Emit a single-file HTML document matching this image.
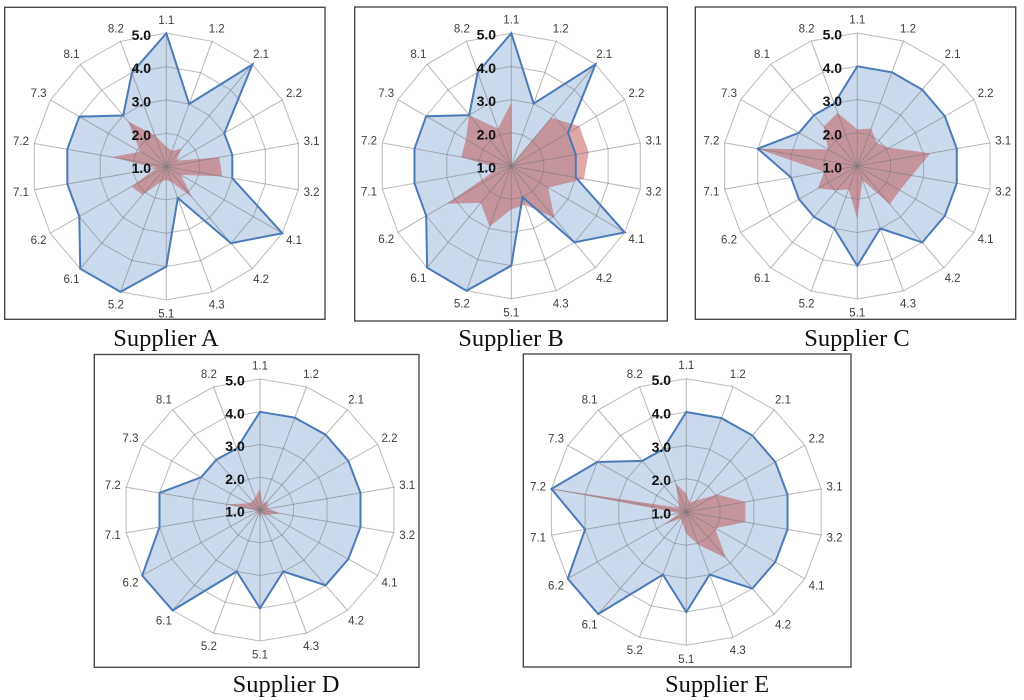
<!DOCTYPE html>
<html lang="en">
<head>
<meta charset="utf-8">
<title>Supplier radar charts</title>
<style>
html,body{margin:0;padding:0;background:#fff;width:1024px;height:700px;overflow:hidden}
svg{display:block;filter:blur(.35px)}
</style>
</head>
<body>
<svg id="figure" xmlns="http://www.w3.org/2000/svg" width="1024" height="700" viewBox="0 0 1024 700"></svg>
<script>
const categories = ['1.1','1.2','2.1','2.2','3.1','3.2','4.1','4.2','4.3','5.1','5.2','6.1','6.2','7.1','7.2','7.3','8.1','8.2'];
const scaleTicks = [1, 2, 3, 4, 5];

const supplierABlue = [5,3,5,3,3,3,5,4,2,4,5,5,4,4,4,4,3,4];
const supplierARed = [1.6,1.5,1.7,1.35,2.6,2.7,1.5,2.2,1.5,1.4,1.5,2.1,2.2,1.3,2.65,1.9,2.77,2];

const supplierBBlue = [5,3,5,3,3,3,5,4,2,4,5,5,4,4,4,4,3,4];
const supplierBRed = [2.9,1.05,2.9,3.4,3.4,3.25,2.3,3.05,2.25,2.3,2.95,2.45,3.27,1.4,2.55,2.6,3,2.2];

const supplierCBlue = [4,4,4,4,4,4,4,4,3,4,3,3,3,3,4,3,3,3];
const supplierCRed = [2.1,2.2,1.9,2.1,3.2,2.65,2.46,2.5,1.45,2.6,1.75,1.95,2.35,2,4,2,2.55,2.7];

const supplierDBlue = [4,4,4,4,4,4,4,4,3,4,3,5,5,4,4,3,3,3];
const supplierDRed = [1.66,1.2,1.35,1.25,1.25,1.6,1.3,1.2,1.1,1.3,1.1,1.1,1.1,1.1,2,1.4,1.35,1.4];

const supplierEBlue = [4,4,4,4,4,4,4,4,3,4,3,5,5,4,5,4,3,3];
const supplierERed = [1.55,1.3,1.45,2.05,2.75,2.75,1.97,2.8,2.05,1.65,1.35,1.25,1.75,1.2,5,1.25,1.35,1.9];

const SVG_NS = 'http://www.w3.org/2000/svg';

function mk(parent, tag, attrs, text) {
  const el = document.createElementNS(SVG_NS, tag);
  for (const k in attrs) el.setAttribute(k, attrs[k]);
  if (text !== undefined) el.textContent = text;
  parent.appendChild(el);
  return el;
}

function drawRadar(root, slug, title, blue, red, cx, cy, rx, ry, fx, fy, fw, fh, capX, capY) {
  const g = mk(root, 'g', {});
  
  

  const angleAt = i => (i * 2 * Math.PI) / categories.length - Math.PI / 2;
  const fraction = v => (v - scaleTicks[0]) / (scaleTicks[scaleTicks.length - 1] - scaleTicks[0]);
  const px = (i, f, extra) => cx + (rx * f + (extra || 0)) * Math.cos(angleAt(i));
  const py = (i, f, extra) => cy + (ry * f + (extra || 0)) * Math.sin(angleAt(i));
  const pointsFor = vals => vals.map((v, i) => px(i, fraction(v)).toFixed(1) + ',' + py(i, fraction(v)).toFixed(1)).join(' ');

  const frame = mk(g, 'rect', {x: fx, y: fy, width: fw, height: fh, fill: '#fff', stroke: '#4a4a4a', 'stroke-width': 1.4});
  
  

  const blueArea = mk(g, 'polygon', {points: pointsFor(blue), fill: 'rgba(79,129,189,0.3)', stroke: 'none'});
  
  

  const redArea = mk(g, 'polygon', {points: pointsFor(red), fill: 'rgba(192,80,77,0.5)', stroke: 'none'});
  
  

  scaleTicks.slice(1).forEach(t => {
    const ring = mk(g, 'polygon', {points: pointsFor(categories.map(() => t)), fill: 'none', stroke: 'rgba(120,120,120,0.5)', 'stroke-width': 1});
    
    
  });

  categories.forEach((c, i) => {
    const spoke = mk(g, 'line', {x1: cx, y1: cy, x2: px(i, 1), y2: py(i, 1), stroke: 'rgba(120,120,120,0.55)', 'stroke-width': 1});
    
    
  });

  const blueLine = mk(g, 'polygon', {points: pointsFor(blue), fill: 'none', stroke: '#4a7ab8', 'stroke-width': 2, 'stroke-linejoin': 'miter'});
  
  

  categories.forEach((c, i) => {
    const lbl = mk(g, 'text', {x: px(i, 1, 13.5).toFixed(1), y: (py(i, 1, 13.5) + 4).toFixed(1), 'text-anchor': 'middle', 'font-family': '"Liberation Sans", sans-serif', 'font-size': 11.5, fill: '#3d3d3d'}, c);
    
    
  });

  scaleTicks.forEach(t => {
    const tick = mk(g, 'text', {x: cx - 25, y: (cy - ry * fraction(t) + 6.5).toFixed(1), 'text-anchor': 'middle', 'font-family': '"Liberation Sans", sans-serif', 'font-size': 14, 'font-weight': 'bold', fill: '#111'}, t.toFixed(1));
    
    
  });

  const caption = mk(g, 'text', {x: capX, y: capY, 'text-anchor': 'middle', 'font-family': '"Liberation Serif", serif', 'font-size': 24.5, fill: '#111'}, title);
  
  
}

const figure = document.getElementById('figure');
drawRadar(figure, 'supplier-a', 'Supplier A', supplierABlue, supplierARed, 166.3, 166.6, 134, 133.3, 4.7, 7.3, 320.3, 312, 166, 346);
drawRadar(figure, 'supplier-b', 'Supplier B', supplierBBlue, supplierBRed, 511.3, 166, 131, 132.8, 354.7, 7, 312.6, 314, 511, 346);
drawRadar(figure, 'supplier-c', 'Supplier C', supplierCBlue, supplierCRed, 857.3, 166, 134.7, 133, 695.3, 7, 320.4, 312.3, 857, 346);
drawRadar(figure, 'supplier-d', 'Supplier D', supplierDBlue, supplierDRed, 260, 510, 136, 131, 94.3, 354.5, 324.7, 312.8, 286, 692);
drawRadar(figure, 'supplier-e', 'Supplier E', supplierEBlue, supplierERed, 686.3, 512, 137, 133.3, 523.3, 354, 327.7, 313, 717, 692);
</script>
</body>
</html>
